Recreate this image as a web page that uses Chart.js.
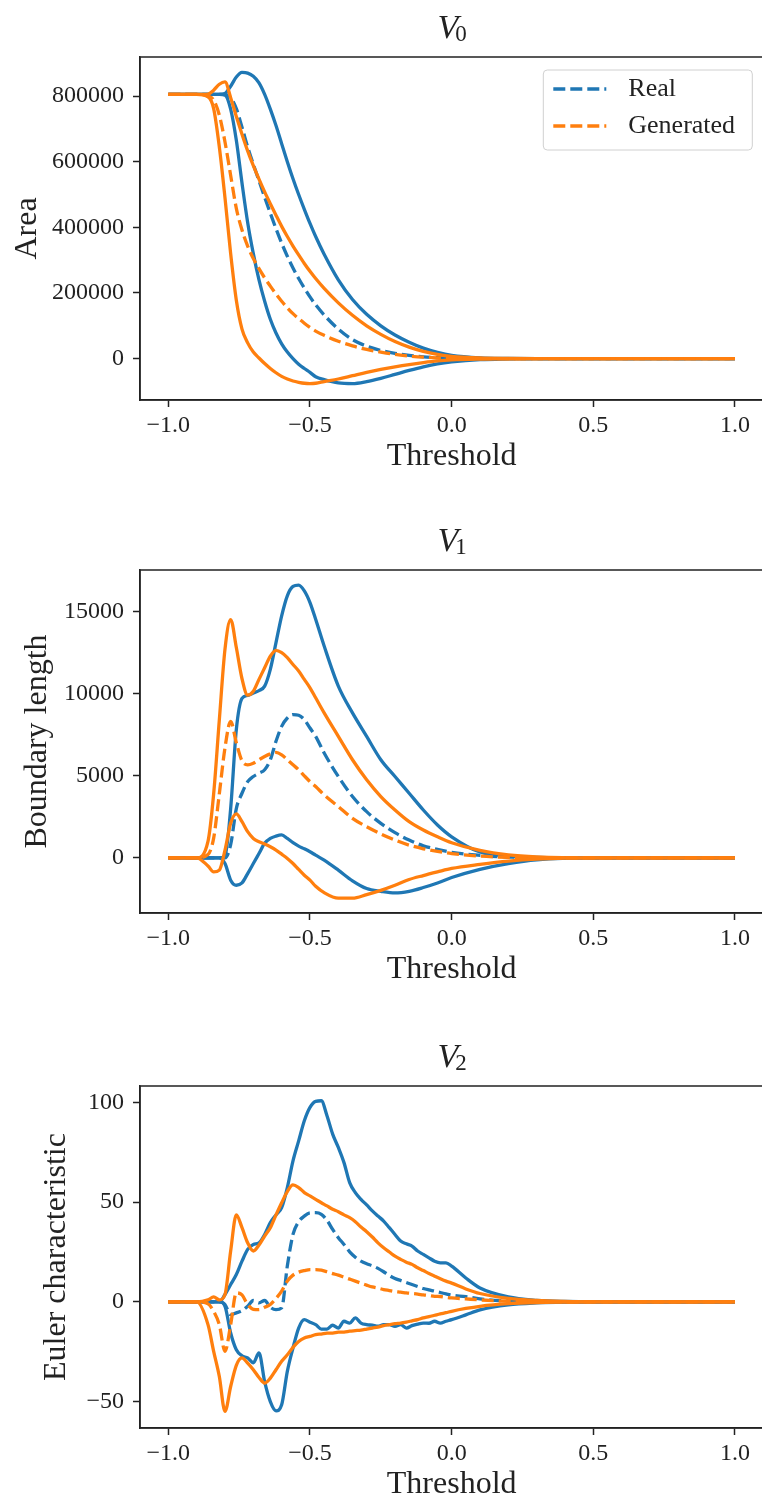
<!DOCTYPE html>
<html>
<head>
<meta charset="utf-8">
<script src="https://cdn.jsdelivr.net/npm/chart.js@4.4.1/dist/chart.umd.min.js"></script>
<style>
    html, body { margin: 0; padding: 0; background: #fff; }
    #page { position: relative; width: 762px; height: 1502px; overflow: hidden; }
    .panel { position: absolute; left: 0; }
</style>
</head>
<body>
<div id="page">
    <canvas id="chartV0" class="panel" style="top:0px" width="770" height="480"></canvas>
    <canvas id="chartV1" class="panel" style="top:480px" width="770" height="513"></canvas>
    <canvas id="chartV2" class="panel" style="top:993px" width="770" height="515"></canvas>
</div>
<script>
// thresholds shared by V0 and V1
const thresholds = [-1.0, -0.9, -0.86, -0.84, -0.82,
    -0.8, -0.78, -0.76, -0.74, -0.72, -0.7, -0.68, -0.66, -0.64, -0.62, -0.6, -0.58, -0.56, -0.54, -0.52, -0.5, -0.48,
    -0.45, -0.4, -0.35, -0.3, -0.25, -0.2, -0.15, -0.1, -0.05, 0.0,
    0.1, 0.2, 0.3, 0.5, 1.0];

// V0 - Area
const areaRealMean = [805000, 805000, 805000, 805000, 805000,
    805000, 795000, 762000, 705000, 645000, 592000, 542000, 492000, 443000, 396000, 352000, 312000, 276000, 244000, 215000, 188000, 164000,
    133000, 90000, 58000, 38000, 25000, 16000, 10000, 5500, 3000, 1500,
    300, 0, 0, 0, 0];
const areaRealUpper = [805000, 805000, 805000, 805000, 805000,
    808000, 830000, 858000, 872000, 870000, 860000, 840000, 805000, 760000, 710000, 655000, 600000, 548000, 500000, 455000, 412000, 372000,
    318000, 240000, 180000, 135000, 100000, 72000, 50000, 32000, 19000, 10000,
    2500, 600, 0, 0, 0];
const areaRealLower = [805000, 805000, 805000, 805000, 805000,
    803000, 760000, 665000, 535000, 415000, 320000, 240000, 175000, 120000, 78000, 45000, 20000, 0, -17000, -30000, -42000, -55000,
    -64000, -74000, -76000, -70000, -60000, -48000, -36000, -25000, -16000, -10000,
    -3000, -800, 0, 0, 0];
const areaGenMean = [805000, 805000, 800000, 788000, 742000,
    660000, 558000, 458000, 392000, 343000, 305000, 274000, 246000, 221000, 197000, 175000, 155000, 137000, 122000, 108000, 95000, 84000,
    71000, 53000, 39000, 28000, 20000, 13000, 8000, 4500, 2500, 1200,
    300, 0, 0, 0, 0];
const areaGenUpper = [805000, 805000, 806000, 818000, 836000,
    843000, 795000, 738000, 684000, 633000, 588000, 547000, 508000, 472000, 437000, 403000, 372000, 343000, 316000, 290000, 266000, 244000,
    214000, 170000, 132000, 100000, 74000, 52000, 35000, 22000, 13000, 7000,
    2000, 500, 0, 0, 0];
const areaGenLower = [805000, 805000, 798000, 762000, 645000,
    490000, 320000, 178000, 90000, 48000, 20000, 2000, -15000, -30000, -43000, -54000, -62000, -68000, -72000, -75000, -76000, -75000,
    -70000, -62000, -52000, -42000, -33000, -25000, -18000, -12000, -7000, -4000,
    -1500, -300, 0, 0, 0];

// V1 - Boundary length
const lengthRealMean = [0, 0, 0, 0, 0,
    0, 800, 3000, 3930, 4640, 4950, 5150, 5360, 5970, 7090, 8000, 8510, 8720, 8680, 8410, 7900, 7390,
    6380, 4950, 3730, 2810, 2100, 1530, 1080, 730, 510, 330,
    150, 50, 10, 0, 0];
const lengthRealUpper = [0, 0, 0, 0, 0,
    100, 3000, 7800, 9700, 9880, 10040, 10180, 10450, 11470, 13100, 14730, 15950, 16520, 16600, 16250, 15540, 14520,
    12890, 10450, 8820, 7390, 5970, 4950, 3930, 2910, 2000, 1280,
    350, 100, 20, 0, 0];
const lengthRealLower = [0, 0, 0, 0, 0,
    -350, -1360, -1670, -1530, -960, -350, 265, 880, 1180, 1320, 1390, 1180, 920, 710, 550, 370, 160,
    -140, -750, -1400, -1870, -2040, -2140, -2040, -1810, -1530, -1200,
    -700, -350, -120, 0, 0];
const lengthGenMean = [0, 0, 200, 1200, 3900,
    6700, 8300, 7000, 5900, 5660, 5760, 5970, 6170, 6330, 6420, 6270, 5970, 5660, 5360, 4990, 4640, 4340,
    3830, 3120, 2400, 1890, 1450, 1080, 770, 550, 390, 260,
    100, 30, 10, 0, 0];
const lengthGenUpper = [0, 0, 1000, 3900, 8400,
    12700, 14500, 12800, 10900, 9900, 10140, 10860, 11570, 12280, 12630, 12490, 12180, 11770, 11370, 10860, 10350, 9740,
    8820, 7390, 5970, 4750, 3730, 2910, 2200, 1690, 1280, 920,
    450, 180, 60, 0, 0];
const lengthGenLower = [0, 0, -500, -860, -750,
    470, 2100, 2670, 2200, 1590, 1180, 980, 840, 670, 470, 220, -40, -350, -710, -1060, -1360, -1730,
    -2120, -2460, -2460, -2240, -1980, -1670, -1320, -1080, -860, -650,
    -400, -200, -80, 0, 0];

// V2 uses a finer grid, the curves are noisier
const thresholdsV2 = [-1.0, -0.9, -0.86, -0.84, -0.82,
    -0.8, -0.78, -0.76, -0.74, -0.72, -0.7, -0.68, -0.66, -0.64, -0.62,
    -0.6, -0.58, -0.56, -0.54, -0.52, -0.5, -0.48, -0.46, -0.44, -0.42,
    -0.4, -0.38, -0.36, -0.34, -0.32, -0.3, -0.28, -0.26, -0.24, -0.22,
    -0.2, -0.18, -0.16, -0.14, -0.12, -0.1, -0.08, -0.06, -0.04, -0.02,
    0.0, 0.05, 0.1, 0.2, 0.3, 0.4, 0.5, 1.0];

const eulerRealMean = [0, 0, 0, 0, 0,
    -1.3, -6.4, -5.5, -4.4, -2.2, 0.7, -0.5, 0.7, -2.7, -3.9,
    -3.0, 18, 33.8, 40.2, 43.0, 44.6, 44.7, 43.9, 40.9, 36.3,
    32.2, 28.8, 25.1, 22.4, 20.4, 19.1, 18.1, 16.8, 15.1, 13.2,
    11.7, 10.7, 9.7, 8.7, 7.7, 6.7, 6.0, 5.4, 4.7, 4.0,
    3.4, 2.6, 1.5, 0.5, 0.15, 0.05, 0, 0];
const eulerRealUpper = [0, 0, 0, 0, 0,
    3.7, 8.7, 13.7, 20.4, 26.3, 28.8, 29.6, 33.8, 39.7, 43.6,
    47.2, 57.3, 70.7, 80.7, 90.8, 97.5, 100.5, 100.8, 93.3, 84.1,
    77.4, 69.8, 59.8, 54.8, 51.4, 48.6, 45.6, 43.0, 40.5, 37.2,
    33.8, 30.5, 29.1, 28.0, 25.5, 23.8, 22.1, 20.4, 19.6, 19.6,
    17.9, 12, 7, 2.5, 0.8, 0.2, 0, 0];
const eulerRealLower = [0, 0, 0, 0, 0,
    -2.2, -15.6, -24.0, -27.0, -28.1, -30.5, -25.6, -40.0, -50.0, -54.6,
    -51.6, -34.8, -23.1, -13.1, -8.9, -10.2, -11.4, -13.6, -13.6, -11.7,
    -13.1, -9.7, -10.6, -8.0, -10.6, -11.4, -11.7, -12.2, -11.4, -11.4,
    -12.2, -11.4, -13.1, -11.9, -11.1, -10.6, -10.7, -9.7, -10.6, -9.7,
    -8.9, -6.5, -4, -1.5, -0.5, -0.1, 0, 0];
const eulerGenMean = [0, 0, -1.0, -4.7, -11.4,
    -24.8, -11.4, 4.5, 3.5, -1.3, -3.7, -3.9, -2.7, -1.3, 1.7,
    5.4, 10.4, 13.4, 14.9, 15.7, 16.2, 16.2, 15.9, 15.1, 14.2,
    13.4, 12.4, 11.4, 10.4, 9.4, 8.4, 7.5, 6.9, 6.2, 5.7,
    5.2, 4.9, 4.5, 4.2, 3.9, 3.5, 3.2, 2.8, 2.7, 2.3,
    2.0, 1.5, 1.0, 0.4, 0.2, 0.05, 0, 0];
const eulerGenUpper = [0, 0, 1.0, 2.5, 1.0,
    3.7, 25.5, 43.6, 37.2, 29.6, 25.5, 28.5, 33.0, 37.2, 43.6,
    49.7, 55.3, 58.6, 57.3, 54.8, 53.1, 51.4, 49.7, 48.1, 46.4,
    45.2, 43.6, 42.2, 40.2, 37.5, 35.2, 32.5, 29.6, 27.1, 25.0,
    22.9, 21.3, 19.9, 18.8, 17.1, 15.7, 14.2, 12.9, 11.6, 10.4,
    9.4, 6.5, 4.2, 1.8, 0.7, 0.2, 0, 0];
const eulerGenLower = [0, 0, -11.4, -24.8, -37.4,
    -54.9, -42.4, -31.8, -28.1, -30.7, -34.0, -37.9, -40.7, -38.2, -34.0,
    -29.8, -26.5, -22.8, -19.8, -18.1, -17.3, -16.4, -16.1, -15.7, -15.6,
    -15.2, -15.1, -14.7, -14.4, -14.1, -13.6, -13.1, -12.6, -11.9, -11.4,
    -10.9, -10.6, -10.1, -9.5, -8.9, -8.0, -7.4, -6.7, -6.0, -5.4,
    -4.7, -3.3, -2.2, -0.9, -0.3, -0.1, 0, 0];

// tick labels
const xTicks = [-1.0, -0.5, 0.0, 0.5, 1.0];
const areaTicks = [0, 200000, 400000, 600000, 800000];
const lengthTicks = [0, 5000, 10000, 15000];
const eulerTicks = [-50, 0, 50, 100];

const BLUE = '#1f77b4';
const ORANGE = '#ff7f0e';
const INK = '#222222';
const SERIF = '"Liberation Serif", "DejaVu Serif", serif';
const DASH = [12, 5];

Chart.defaults.font.family = SERIF;
Chart.defaults.color = INK;

function formatTick(value, decimals) {
    return value.toFixed(decimals).replace('-', '\u2212');
}

// matplotlib style box around the axes
const framePlugin = {
    id: 'frame',
    afterDraw(chart) {
        const { ctx, chartArea: a } = chart;
        ctx.save();
        ctx.strokeStyle = INK;
        ctx.lineWidth = 1.5;
        ctx.strokeRect(a.left, a.top, a.right - a.left, a.bottom - a.top);
        ctx.restore();
    }
};

// V with a subscript index above the axes
const panelTitlePlugin = {
    id: 'panelTitle',
    afterDraw(chart, args, opts) {
        if (!opts.symbol) return;
        const { ctx, chartArea: a } = chart;
        ctx.save();
        ctx.fillStyle = INK;
        ctx.textBaseline = 'alphabetic';
        ctx.font = 'italic 34px ' + SERIF;
        const w1 = ctx.measureText(opts.symbol).width;
        ctx.font = '23px ' + SERIF;
        const w2 = ctx.measureText(opts.index).width;
        const x0 = (a.left + a.right) / 2 - (w1 + w2) / 2 + 2;
        const base = a.top - 19;
        ctx.font = 'italic 34px ' + SERIF;
        ctx.fillText(opts.symbol, x0, base);
        ctx.font = '23px ' + SERIF;
        ctx.fillText(opts.index, x0 + w1 - 3, base + 3);
        ctx.restore();
    }
};

const legendBoxPlugin = {
    id: 'legendBox',
    afterDraw(chart, args, opts) {
        if (!opts.items) return;
        const { ctx, chartArea: a } = chart;
        const right = a.right - 11;
        const left = right - 209;
        const top = a.top + 13;
        const h = 80;
        ctx.save();
        ctx.beginPath();
        ctx.roundRect(left, top, right - left, h, 4);
        ctx.fillStyle = 'rgba(255,255,255,0.85)';
        ctx.fill();
        ctx.strokeStyle = '#d0d0d0';
        ctx.lineWidth = 1;
        ctx.stroke();
        opts.items.forEach(function (item, i) {
            const y = top + 19 + i * 37;
            ctx.beginPath();
            ctx.setLineDash(DASH);
            ctx.strokeStyle = item.color;
            ctx.lineWidth = 3.3;
            ctx.moveTo(left + 10, y);
            ctx.lineTo(left + 63, y);
            ctx.stroke();
            ctx.setLineDash([]);
            ctx.fillStyle = INK;
            ctx.font = '26px ' + SERIF;
            ctx.textBaseline = 'middle';
            ctx.fillText(item.label, left + 85, y);
        });
        ctx.restore();
    }
};

function buildDatasets(xs, series) {
    return series.map(function (s) {
        return {
            label: s.label,
            data: xs.map(function (x, i) { return { x: x, y: s.values[i] }; }),
            borderColor: s.color,
            borderWidth: 3.3,
            borderDash: s.dashed ? DASH : [],
            pointRadius: 0,
            cubicInterpolationMode: 'monotone',
            fill: false
        };
    });
}

function renderPanel(canvasId, cfg) {
    const ctx = document.getElementById(canvasId);
    return new Chart(ctx, {
        type: 'line',
        data: {
            datasets: buildDatasets(cfg.xs, [
                { label: 'Generated', values: cfg.genMean, color: ORANGE, dashed: true },
                { label: 'Generated +std', values: cfg.genUpper, color: ORANGE },
                { label: 'Generated -std', values: cfg.genLower, color: ORANGE },
                { label: 'Real', values: cfg.realMean, color: BLUE, dashed: true },
                { label: 'Real +std', values: cfg.realUpper, color: BLUE },
                { label: 'Real -std', values: cfg.realLower, color: BLUE }
            ])
        },
        options: {
            responsive: false,
            animation: false,
            devicePixelRatio: 1,
            layout: { padding: { top: cfg.padTop, right: 6.7, left: 0, bottom: 0 } },
            plugins: {
                legend: { display: false },
                tooltip: { enabled: false },
                panelTitle: { symbol: 'V', index: cfg.index },
                legendBox: { items: cfg.legend }
            },
            scales: {
                x: {
                    type: 'linear',
                    min: -1.1,
                    max: 1.1,
                    afterBuildTicks: function (scale) {
                        scale.ticks = xTicks.map(function (v) { return { value: v }; });
                    },
                    afterFit: function (scale) { scale.height = 80; },
                    grid: { drawOnChartArea: false, drawTicks: true, tickLength: 7, tickWidth: 1.5, color: INK },
                    border: { display: true, color: INK, width: 1.5 },
                    ticks: {
                        autoSkip: false,
                        maxRotation: 0,
                        padding: 4,
                        font: { size: 24 },
                        color: INK,
                        callback: function (v) { return formatTick(v, 1); }
                    },
                    title: {
                        display: true,
                        text: 'Threshold',
                        font: { size: 32 },
                        color: INK,
                        padding: { top: 0, bottom: 4 }
                    }
                },
                y: {
                    type: 'linear',
                    min: cfg.yMin,
                    max: cfg.yMax,
                    afterBuildTicks: function (scale) {
                        scale.ticks = cfg.yTicks.map(function (v) { return { value: v }; });
                    },
                    afterFit: function (scale) { scale.width = 140; },
                    grid: { drawOnChartArea: false, drawTicks: true, tickLength: 7, tickWidth: 1.5, color: INK },
                    border: { display: true, color: INK, width: 1.5 },
                    ticks: {
                        autoSkip: false,
                        padding: 9,
                        font: { size: 24 },
                        color: INK,
                        callback: function (v) { return formatTick(v, 0); }
                    },
                    title: {
                        display: true,
                        text: cfg.yLabel,
                        font: { size: 32 },
                        color: INK,
                        padding: { top: cfg.labelPad, bottom: 0 }
                    }
                }
            }
        },
        plugins: [framePlugin, panelTitlePlugin, legendBoxPlugin]
    });
}

renderPanel('chartV0', {
    index: '0', xs: thresholds, padTop: 57,
    yMin: -126000, yMax: 919000, yTicks: areaTicks, yLabel: 'Area', labelPad: 8,
    realMean: areaRealMean, realUpper: areaRealUpper, realLower: areaRealLower,
    genMean: areaGenMean, genUpper: areaGenUpper, genLower: areaGenLower,
    legend: [{ label: 'Real', color: BLUE }, { label: 'Generated', color: ORANGE }]
});

renderPanel('chartV1', {
    index: '1', xs: thresholds, padTop: 90,
    yMin: -3360, yMax: 17520, yTicks: lengthTicks, yLabel: 'Boundary length', labelPad: 18,
    realMean: lengthRealMean, realUpper: lengthRealUpper, realLower: lengthRealLower,
    genMean: lengthGenMean, genUpper: lengthGenUpper, genLower: lengthGenLower
});

renderPanel('chartV2', {
    index: '2', xs: thresholdsV2, padTop: 93,
    yMin: -63.2, yMax: 108.2, yTicks: eulerTicks, yLabel: 'Euler characteristic', labelPad: 37,
    realMean: eulerRealMean, realUpper: eulerRealUpper, realLower: eulerRealLower,
    genMean: eulerGenMean, genUpper: eulerGenUpper, genLower: eulerGenLower
});
</script>
</body>
</html>
